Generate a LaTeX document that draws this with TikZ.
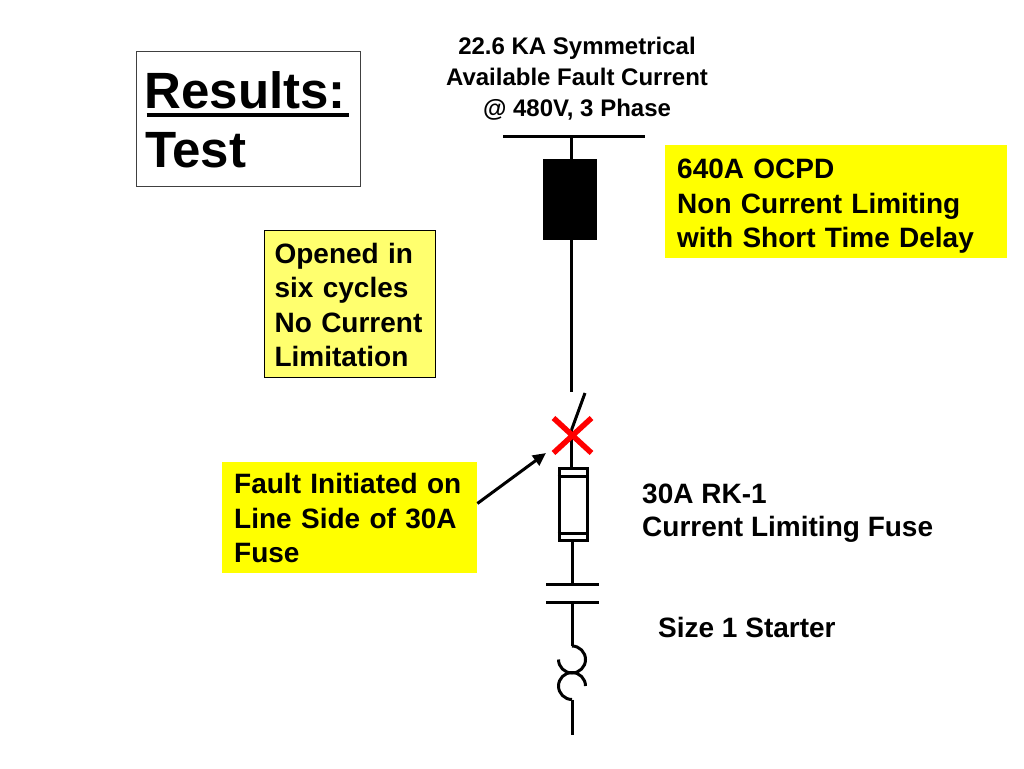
\documentclass[tikz,border=0pt]{standalone}
\usepackage{fontspec}
\setmainfont{Liberation Sans}
\usetikzlibrary{arrows.meta}
\definecolor{ybright}{RGB}{255,255,0}
\definecolor{ypale}{RGB}{255,255,110}
\definecolor{xred}{RGB}{255,0,0}
\tikzset{
  wire/.style={line width=3pt, line cap=butt},
  ybox/.style={anchor=north west, inner ysep=0pt, align=left, font=\bfseries\fontsize{28}{34.4}\selectfont},
  plaintext/.style={inner sep=0pt, font=\bfseries\fontsize{28}{33}\selectfont},
  arr/.style={line width=3pt, -{Triangle[length=13pt,width=12pt]}},
}
\begin{document}
\begin{tikzpicture}[x=1pt,y=-1pt]
\useasboundingbox (0,0) rectangle (1024,768);
\fill[white] (0,0) rectangle (1024,768);

% Results box
\node[draw=black!75, line width=1.2pt, anchor=north west, minimum width=224pt, minimum height=135pt, inner sep=0pt] (resbox) at (136,51) {};
\node[anchor=base west, inner sep=0pt, font=\bfseries\fontsize{51}{60}\selectfont] (res) at (144.5,108) {Results:};
\node[anchor=base west, inner sep=0pt, font=\bfseries\fontsize{51}{60}\selectfont] (test) at (145,167) {Test};
\draw[line width=4.5pt] ([yshift=-7pt]res.base west) ++(2,0) -- ([yshift=-7pt,xshift=3pt]res.base east);

% Top text
\node[anchor=north, inner sep=0pt, align=center, font=\bfseries\fontsize{24}{31}\selectfont] (src) at (577,32.3)
  {\strut 22.6 KA Symmetrical\\Available Fault Current\\@ 480V, 3 Phase};

% Yellow boxes
\node[ybox, fill=ybright, inner xsep=12pt, text width=318pt, minimum width=342pt, minimum height=113pt] (ocpdtxt) at (665,145)
  {\rule{0pt}{33.5pt}640A OCPD\\Non Current Limiting\\with Short Time Delay\strut};
\node[ybox, fill=ypale, draw=black, line width=1.2pt, inner xsep=10pt, text width=151pt, minimum width=171pt, minimum height=147pt] (opened) at (264,230)
  {\rule{0pt}{32pt}Opened in\\six cycles\\No Current\\Limitation\strut};
\node[ybox, fill=ybright, inner xsep=12pt, text width=231pt, minimum width=255pt, minimum height=110pt] (fault) at (222,462)
  {\rule{0pt}{31.4pt}Fault Initiated on\\Line Side of 30A\\Fuse\strut};

% Right labels
\node[plaintext, anchor=north west, align=left] (fuselbl) at (642,479.9)
  {\strut 30A RK-1\\Current Limiting Fuse};
\node[plaintext, anchor=base west] (starter) at (658,637) {Size 1 Starter};

% One-line diagram
\coordinate (busL) at (503,136);
\coordinate (busR) at (645,136);
\coordinate (busT) at (571.5,136);
\node[fill=black, minimum width=54pt, minimum height=81pt, inner sep=0pt] (cb) at (570,199.5) {};
\coordinate (swtop) at (571.5,392);
\coordinate (swpivot) at (571.5,430);
\coordinate (bladeend) at (585,393);
\node[draw=black, line width=3pt, minimum width=28pt, minimum height=72pt, inner sep=0pt] (fuse) at (573,504) {};
\coordinate (cA) at (572,584);
\coordinate (cB) at (572,602);
\coordinate (olTop) at (572,646);
\coordinate (olBot) at (572,699);
\coordinate (load) at (572,735);

\draw[wire] (busL) -- (busR);
\draw[wire] (busT) -- (busT |- cb.north);
\draw[wire] (busT |- cb.south) -- (swtop);
\draw[wire] (swpivot) -- (bladeend);
\draw[wire] (swpivot) -- (swpivot |- fuse.north);
% fuse end bands
\draw[wire] ([yshift=-10pt]fuse.north west) -- ([yshift=-10pt]fuse.north east);
\draw[wire] ([yshift=8pt]fuse.south west) -- ([yshift=8pt]fuse.south east);
\draw[wire] (fuse.south -| cA) -- (cA);
% contactor
\draw[wire] ([xshift=-26pt]cA) -- ([xshift=27pt]cA);
\draw[wire] ([xshift=-26pt]cB) -- ([xshift=27pt]cB);
\draw[wire] (cB) -- (olTop);
% overload heater
\draw[wire] (olTop) arc[start angle=-90, end angle=180, radius=13.5];
\draw[wire] ([shift={(13.5,40)}]olTop) arc[start angle=0, end angle=-270, radius=13.5];
\draw[wire] ([yshift=-0.5pt]olBot) -- (load);

% Fault mark
\coordinate (xmark) at (572.5,436);
\draw[xred, line width=5.5pt] ([shift={(-19,-18)}]xmark) -- ([shift={(19,17)}]xmark);
\draw[xred, line width=5.5pt] ([shift={(19,-18)}]xmark) -- ([shift={(-19,17)}]xmark);
\coordinate (arrtip) at (546,453);
\draw[arr] ([yshift=14pt]fault.east) -- (arrtip);
\end{tikzpicture}
\end{document}
